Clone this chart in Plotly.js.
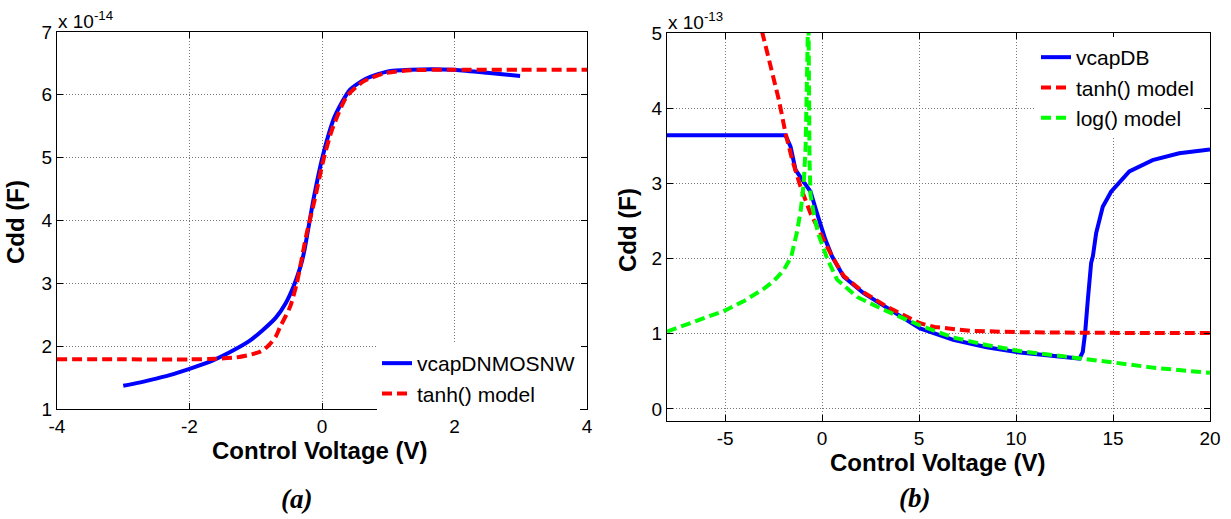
<!DOCTYPE html>
<html>
<head>
<meta charset="utf-8">
<script src="https://cdn.plot.ly/plotly-3.0.1.min.js"></script>
<style>html,body{margin:0;padding:0;background:#fff;}#chart{width:1231px;height:519px;}</style>
</head>
<body>
<div id="chart"></div>
<script>
// ---- Panel (a): Cdd in units of 1e-14 F ----
const vA_meas = [-3.0,-2.85,-2.6,-2.3,-2.0,-1.7,-1.4,-1.1,-0.9,-0.7,-0.55,-0.43,-0.33,-0.27,-0.13,0.01,0.19,0.42,0.67,0.98,1.33,1.98,2.49,2.99];
const cddA_meas = [1.37,1.40,1.46,1.54,1.64,1.75,1.90,2.08,2.25,2.45,2.68,2.95,3.25,3.50,4.33,5.02,5.65,6.08,6.26,6.37,6.40,6.40,6.35,6.30];
const vA_tanh = [-4,-3,-2,-1.59,-1.3,-1.1,-0.94,-0.86,-0.78,-0.70,-0.63,-0.48,-0.38,-0.31,-0.23,-0.11,0.02,0.15,0.37,0.62,0.93,1.33,2,3,4];
const cddA_tanh = [1.79,1.79,1.79,1.80,1.82,1.86,1.91,1.96,2.04,2.15,2.31,2.63,3.00,3.37,3.80,4.33,4.96,5.44,5.97,6.21,6.34,6.39,6.40,6.40,6.40];

// ---- Panel (b): Cdd in units of 1e-13 F ----
const vB_meas = [-8,-1.89,-1.63,-1.37,-1.03,-0.60,-0.26,0.17,0.51,1.11,2.14,3.34,5.05,6.76,8.48,10.19,11.9,13.27,13.44,13.56,13.70,13.87,13.96,14.13,14.47,14.90,15.84,17.04,18.41,20];
const cddB_meas = [3.64,3.64,3.49,3.18,3.05,2.89,2.60,2.25,2.03,1.76,1.54,1.34,1.07,0.92,0.82,0.75,0.70,0.67,0.76,1.01,1.45,1.94,2.03,2.34,2.69,2.89,3.16,3.31,3.40,3.45];
const vB_tanh = [-3.1,-2.66,-2.23,-1.89,-1.54,-1.12,-0.60,0.08,0.51,1.11,2.14,3.34,4.3,5.05,5.8,6.42,7.62,10.19,13,16,20];
const cddB_tanh = [5.02,4.55,4.11,3.67,3.31,2.96,2.60,2.25,2.03,1.77,1.55,1.36,1.23,1.14,1.09,1.07,1.04,1.02,1.01,1.01,1.01];
const vB_log = [-8,-7,-6,-5,-4,-3,-2.5,-2,-1.6,-1.3,-1.1,-0.95,-0.85,-0.78,-0.73,null,-0.70,-0.68,-0.65,-0.60,-0.40,-0.20,0.26,0.77,1.80,3.17,5.05,6.76,8.48,10.19,11.9,13.27,14.98,17.04,20];
const cddB_log = [1.03,1.12,1.21,1.31,1.44,1.60,1.70,1.84,2.02,2.35,2.65,3.00,3.50,4.20,5.10,null,5.10,4.00,3.30,2.85,2.55,2.33,2.00,1.72,1.49,1.32,1.11,0.95,0.85,0.77,0.72,0.68,0.62,0.55,0.48];

const xTicksA = [-4,-2,0,2,4];
const xLabelsA = ['-4','-2','0','2','4'];
const yTicksA = [1,2,3,4,5,6,7];
const yLabelsA = ['1','2','3','4','5','6','7'];
const xTicksB = [-5,0,5,10,15,20];
const xLabelsB = ['-5','0','5','10','15','20'];
const yTicksB = [0,1,2,3,4,5];
const yLabelsB = ['0','1','2','3','4','5'];

const W = 1231, H = 519;
const px = v => v / W, py = v => 1 - v / H;
const FONT = 'Liberation Sans, Arial, sans-serif';
const SERIF = 'Liberation Serif, Times New Roman, serif';
const BLUE = '#0000ff', RED = '#ff0000', GREEN = '#00ff00';
const DASH = '10px,5px';

const traces = [
  {x: vA_meas, y: cddA_meas, xaxis: 'x', yaxis: 'y', mode: 'lines', name: 'vcapDNMOSNW',
   line: {color: BLUE, width: 4, shape: 'spline', smoothing: 0.6}, legend: 'legend'},
  {x: vA_tanh, y: cddA_tanh, xaxis: 'x', yaxis: 'y', mode: 'lines', name: 'tanh() model',
   line: {color: RED, width: 4, dash: DASH, shape: 'spline', smoothing: 0.6}, legend: 'legend'},
  {x: vB_meas, y: cddB_meas, xaxis: 'x2', yaxis: 'y2', mode: 'lines', name: 'vcapDB',
   line: {color: BLUE, width: 4}, legend: 'legend2'},
  {x: vB_tanh, y: cddB_tanh, xaxis: 'x2', yaxis: 'y2', mode: 'lines', name: 'tanh() model',
   line: {color: RED, width: 4, dash: DASH}, legend: 'legend2'},
  {x: vB_log, y: cddB_log, xaxis: 'x2', yaxis: 'y2', mode: 'lines', name: 'log() model',
   line: {color: GREEN, width: 4, dash: DASH}, legend: 'legend2', connectgaps: false}
];

function ax(extra) {
  return Object.assign({
    showline: true, linecolor: '#000', linewidth: 1, mirror: 'ticks',
    ticks: 'inside', ticklen: 6, tickcolor: '#000',
    showgrid: true, gridcolor: '#777', griddash: '1px,2px', gridwidth: 1,
    zeroline: false, tickmode: 'array',
    tickfont: {family: FONT, size: 19, color: '#000'}
  }, extra);
}

const layout = {
  width: W, height: H,
  margin: {l: 0, r: 0, t: 0, b: 0},
  paper_bgcolor: '#fff', plot_bgcolor: '#fff',
  showlegend: true,
  xaxis: ax({domain: [px(57), px(587)], range: [-4, 4], tickvals: xTicksA, ticktext: xLabelsA, anchor: 'y'}),
  yaxis: ax({domain: [py(409), py(32)], range: [1, 7], tickvals: yTicksA, ticktext: yLabelsA, anchor: 'x'}),
  xaxis2: ax({domain: [px(667), px(1210)], range: [-8, 20], tickvals: xTicksB, ticktext: xLabelsB, anchor: 'y2'}),
  yaxis2: ax({domain: [py(421), py(33)], range: [-0.16, 5], tickvals: yTicksB, ticktext: yLabelsB, anchor: 'x2'}),
  legend: {x: px(377), y: py(343), xanchor: 'left', yanchor: 'top', bgcolor: '#fff', borderwidth: 0,
           font: {family: FONT, size: 21, color: '#000'}, tracegroupgap: 0},
  legend2: {x: px(1036), y: py(37), xanchor: 'left', yanchor: 'top', bgcolor: '#fff', borderwidth: 0,
           font: {family: FONT, size: 21, color: '#000'}, tracegroupgap: 0},
  annotations: [
    {xref: 'paper', yref: 'paper', x: px(56), y: py(20), xanchor: 'left', yanchor: 'middle', showarrow: false,
     text: 'x 10<sup>-14</sup>', font: {family: FONT, size: 19, color: '#000'}},
    {xref: 'paper', yref: 'paper', x: px(666), y: py(21), xanchor: 'left', yanchor: 'middle', showarrow: false,
     text: 'x 10<sup>-13</sup>', font: {family: FONT, size: 19, color: '#000'}},
    {xref: 'paper', yref: 'paper', x: px(15), y: py(222), xanchor: 'center', yanchor: 'middle', showarrow: false,
     textangle: -90, text: '<b>Cdd (F)</b>', font: {family: FONT, size: 24, color: '#000'}},
    {xref: 'paper', yref: 'paper', x: px(627), y: py(230), xanchor: 'center', yanchor: 'middle', showarrow: false,
     textangle: -90, text: '<b>Cdd (F)</b>', font: {family: FONT, size: 24, color: '#000'}},
    {xref: 'paper', yref: 'paper', x: px(320), y: py(450), xanchor: 'center', yanchor: 'middle', showarrow: false,
     text: '<b>Control Voltage (V)</b>', font: {family: FONT, size: 24, color: '#000'}},
    {xref: 'paper', yref: 'paper', x: px(938), y: py(462), xanchor: 'center', yanchor: 'middle', showarrow: false,
     text: '<b>Control Voltage (V)</b>', font: {family: FONT, size: 24, color: '#000'}},
    {xref: 'paper', yref: 'paper', x: px(296), y: py(499), xanchor: 'center', yanchor: 'middle', showarrow: false,
     text: '<b><i>(a)</i></b>', font: {family: SERIF, size: 27, color: '#000'}},
    {xref: 'paper', yref: 'paper', x: px(914), y: py(498), xanchor: 'center', yanchor: 'middle', showarrow: false,
     text: '<b><i>(b)</i></b>', font: {family: SERIF, size: 27, color: '#000'}}
  ]
};

Plotly.newPlot('chart', traces, layout, {staticPlot: true, displayModeBar: false});
</script>
</body>
</html>
